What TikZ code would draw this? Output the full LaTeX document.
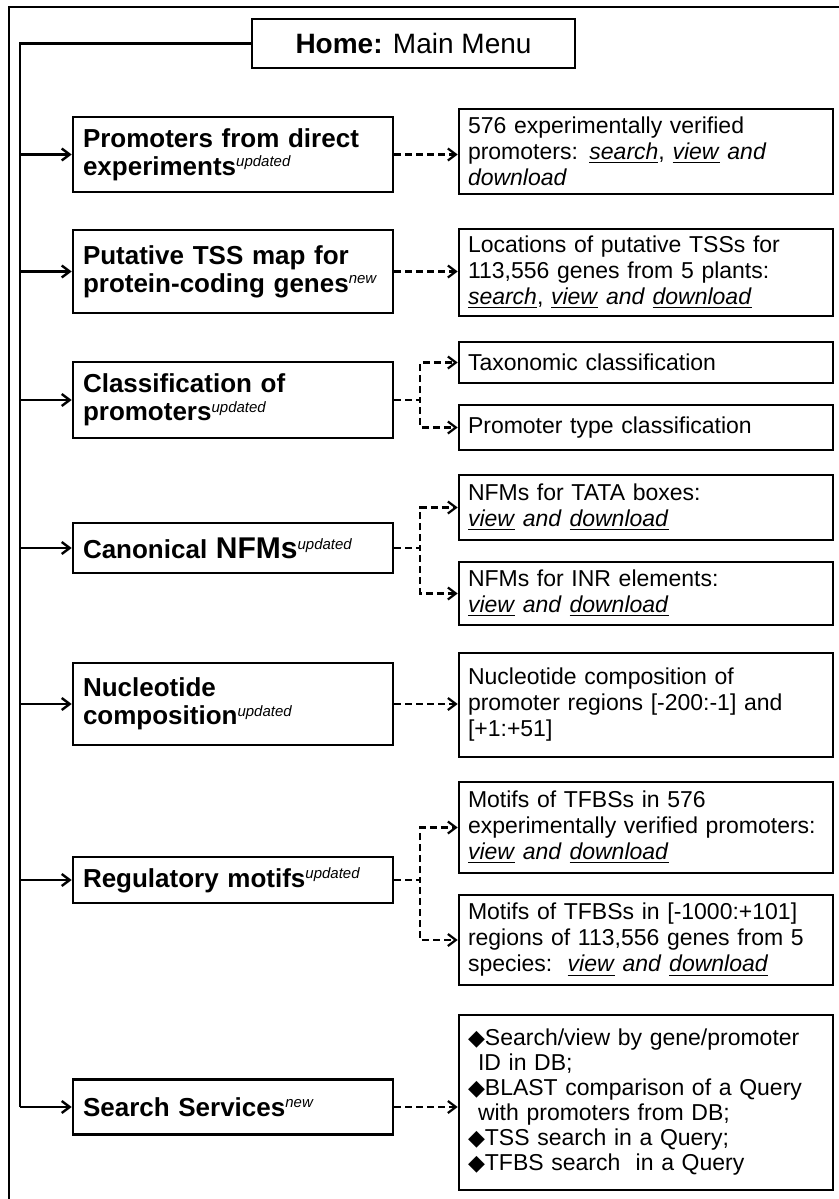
\documentclass[tikz,border=0pt]{standalone}
\usepackage{fontspec}
\setmainfont{Liberation Sans}
\newfontfamily\symfnt{DejaVu Sans}
\usepackage{tikz}
\usetikzlibrary{positioning,arrows.meta}
\newcommand{\tagnote}[1]{\textsuperscript{\normalfont\itshape\fontsize{7.5}{8}\selectfont #1}}
\newcommand{\lnk}[1]{\underline{\textit{#1}}}
\newcommand{\bul}{{\symfnt\fontsize{11}{11}\selectfont ◆}}

\begin{document}
\begin{tikzpicture}[x=0.5pt,y=0.5pt]
\tikzstyle{topic}=[draw=black, line width=1.3pt, text width=150pt, inner xsep=5pt, align=left, font=\bfseries\fontsize{13}{14}\selectfont]
\tikzstyle{detail}=[draw=black, line width=1.3pt, text width=178pt, inner xsep=4.5pt, align=left, font=\fontsize{11.5}{13}\selectfont]
\tikzstyle{feed}=[black, line width=1.2pt, -{Straight Barb[length=4pt,width=6pt]}]
\tikzstyle{link}=[black, line width=1.1pt, dash pattern=on 3.5pt off 2pt, -{Straight Barb[length=4pt,width=6pt]}]
\useasboundingbox (0,0) rectangle (839,-1199);
\draw [black, line width=1pt] (839,-7) -- (9,-7) -- (9,-1199);
\node [draw=black, line width=1.3pt, minimum width=161.5pt, minimum height=24.5pt, font=\fontsize{14}{16}\selectfont] (home) at (413.5,-43.5) {\textbf{Home:} Main Menu};
\node [topic, minimum height=37.5pt] (prom) at (233,-154.5) {Promoters from direct\\experiments\tagnote{updated}};
\node [topic, minimum height=41.5pt] (tss) at (233,-271.5) {Putative TSS map for\\protein-coding genes\tagnote{new}};
\node [topic, minimum height=38pt] (clas) at (233,-400) {Classification of\\promoters\tagnote{updated}};
\node [topic, minimum height=25pt] (nfm) at (233,-548) {Canonical {\fontsize{15}{16}\selectfont NFMs}\tagnote{updated}};
\node [topic, minimum height=41pt] (nuc) at (233,-704) {Nucleotide\\composition\tagnote{updated}};
\node [topic, minimum height=23pt] (reg) at (233,-880) {Regulatory motifs\tagnote{updated}};
\node [topic, minimum height=27.5pt] (srch) at (233,-1107) {Search Services\tagnote{new}};
\node [detail, minimum height=42.5pt] (verif) at (646,-151.5) {576 experimentally verified\\promoters: \lnk{search}, \lnk{view} \textit{and}\\\textit{download}};
\node [detail, minimum height=43.5pt] (locs) at (646,-272.5) {Locations of putative TSSs for\\113,556 genes from 5 plants:\\\lnk{search}, \lnk{view} \textit{and} \lnk{download}};
\node [detail, minimum height=20.5pt] (taxo) at (646,-362.5) {Taxonomic classification};
\node [detail, minimum height=22.5pt] (ptype) at (646,-427.5) {Promoter type classification};
\node [detail, minimum height=32.5pt] (tata) at (646,-507.5) {NFMs for TATA boxes:\\\lnk{view} \textit{and} \lnk{download}};
\node [detail, minimum height=31.5pt] (inr) at (646,-593.5) {NFMs for INR elements:\\\lnk{view} \textit{and} \lnk{download}};
\node [detail, minimum height=52pt] (ncomp) at (646,-705) {Nucleotide composition of\\promoter regions [-200:-1] and\\{[+1:+51]}};
\node [detail, minimum height=45.5pt] (motexp) at (646,-827.5) {Motifs of TFBSs in 576\\experimentally verified promoters:\\\lnk{view} \textit{and} \lnk{download}};
\node [detail, minimum height=45pt] (motgen) at (646,-940) {Motifs of TFBSs in [-1000:+101]\\regions of 113,556 genes from 5\\species:\ \ \lnk{view} \textit{and} \lnk{download}};
\node [detail, minimum height=87.5pt, font=\fontsize{11.5}{12.5}\selectfont] (serv) at (646,-1102.5) {\bul Search/view by gene/promoter\\\hspace*{5pt}ID in DB;\\\bul BLAST comparison of a Query\\\hspace*{5pt}with promoters from DB;\\\bul TSS search in a Query;\\\bul TFBS search\ \ in a Query};
\coordinate (spine) at (20,-43.5);
\draw [black, line width=1.2pt] (home.west) -| (spine |- srch.west);
\draw [feed] (spine |- prom.west) -- (prom.west);
\draw [feed] (spine |- tss.west) -- (tss.west);
\draw [feed] (spine |- clas.west) -- (clas.west);
\draw [feed] (spine |- nfm.west) -- (nfm.west);
\draw [feed] (spine |- nuc.west) -- (nuc.west);
\draw [feed] (spine |- reg.west) -- (reg.west);
\draw [feed] (spine |- srch.west) -- (srch.west);
\draw [link] (prom.east) -- (prom.east -| verif.west);
\draw [link] (tss.east) -- (tss.east -| locs.west);
\draw [link] (clas.east) -- ++(26,0) |- (taxo.west);
\draw [link] (clas.east) -- ++(26,0) |- (ptype.west);
\draw [link] (nfm.east) -- ++(26,0) |- (tata.west);
\draw [link] (nfm.east) -- ++(26,0) |- (inr.west);
\draw [link] (nuc.east) -- (nuc.east -| ncomp.west);
\draw [link] (reg.east) -- ++(26,0) |- (motexp.west);
\draw [link] (reg.east) -- ++(26,0) |- (motgen.west);
\draw [link] (srch.east) -- (srch.east -| serv.west);
\end{tikzpicture}
\end{document}
